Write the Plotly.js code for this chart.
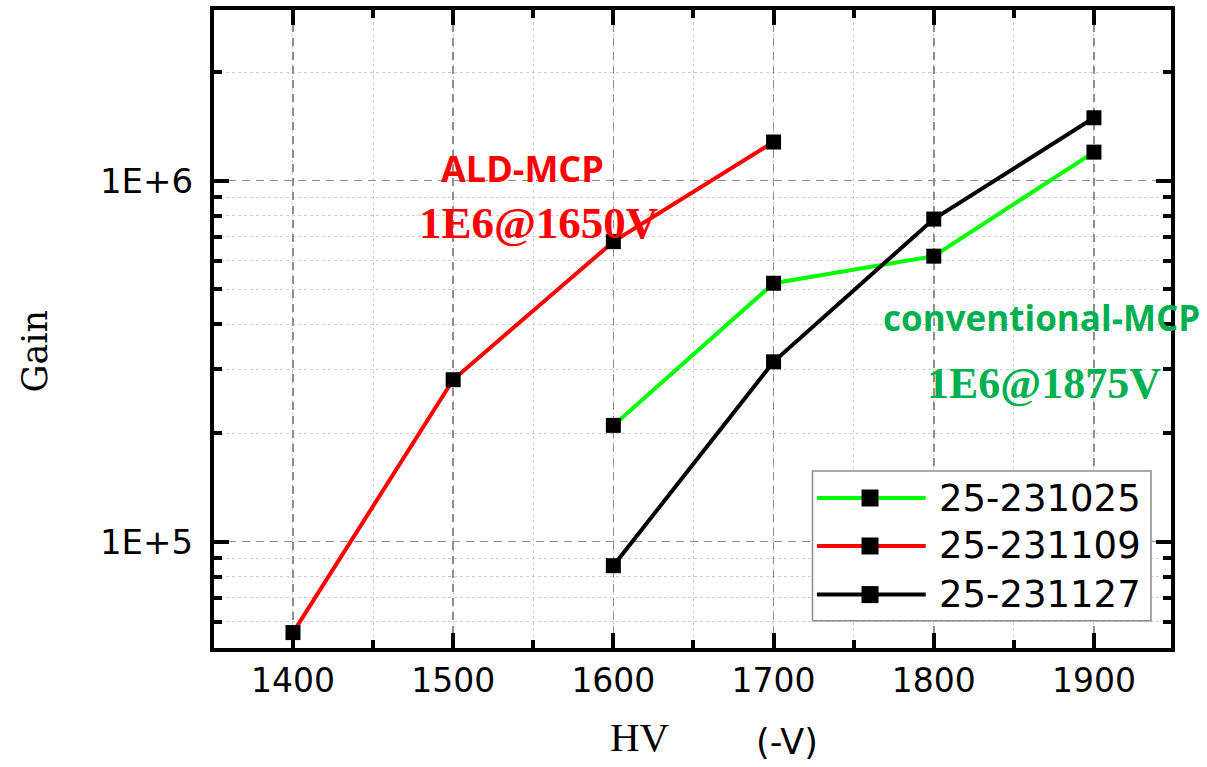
<!DOCTYPE html>
<html>
<head>
<meta charset="utf-8">
<script src="https://cdn.plot.ly/plotly-3.0.1.min.js"></script>
<style>
  html, body { margin: 0; padding: 0; background: #ffffff; }
  #chart { width: 1207px; height: 767px; }
</style>
</head>
<body>
<div id="chart"></div>
<script>
// High voltage applied to the MCP (-V)
const hvGreen = [1600, 1700, 1800, 1900];
const hvRed   = [1400, 1500, 1600, 1700];
const hvBlack = [1600, 1700, 1800, 1900];

// Measured gain for each plate
const gainGreen = [210000, 520000, 618000, 1200000];
const gainRed   = [56000, 281000, 678000, 1280000];
const gainBlack = [85800, 315000, 783000, 1494000];

// Series names
const seriesNames = ['25-231025', '25-231109', '25-231127'];

// Tick labels
const xTickVals = [1400, 1500, 1600, 1700, 1800, 1900];
const yTickVals = [1e5, 1e6];
const yTickText = ['1E+5', '1E+6'];

// Styling
const lineColors = ['#00ff00', '#ff0000', '#000000'];
const sansFont = 'DejaVu Sans, sans-serif';

const xs = [hvGreen, hvRed, hvBlack];
const ys = [gainGreen, gainRed, gainBlack];

const traces = seriesNames.map((name, i) => ({
  type: 'scatter',
  mode: 'lines+markers',
  name: name,
  x: xs[i],
  y: ys[i],
  line: { color: lineColors[i], width: 4 },
  marker: { symbol: 'square', size: 15, color: '#000000' },
  showlegend: false,
  cliponaxis: false
}));

// Minor tick positions for the log axis (2..9 within each decade)
const yMinor = [];
for (let d = 4; d <= 6; d++) {
  for (let k = 2; k <= 9; k++) yMinor.push(k * Math.pow(10, d));
}

// Hand-drawn legend box in the lower right of the plot
const legX0 = 0.6254, legX1 = 0.9791, legY0 = 0.0429, legY1 = 0.2774;
const rowY = [0.2351, 0.1599, 0.0837];
const symX0 = 0.6301, symX1 = 0.7437, symMid = 0.6855, textX = 0.7555;

const shapes = [{
  type: 'rect', xref: 'paper', yref: 'paper',
  x0: legX0, x1: legX1, y0: legY0, y1: legY1,
  line: { color: '#8c8c8c', width: 1.5 }, fillcolor: '#ffffff', layer: 'above'
}];
const annotations = [];
seriesNames.forEach((name, i) => {
  shapes.push({
    type: 'line', xref: 'paper', yref: 'paper',
    x0: symX0, x1: symX1, y0: rowY[i], y1: rowY[i],
    line: { color: lineColors[i], width: 4 }, layer: 'above'
  });
  shapes.push({
    type: 'rect', xref: 'paper', yref: 'paper',
    xsizemode: 'pixel', ysizemode: 'pixel',
    xanchor: symMid, yanchor: rowY[i],
    x0: -8.5, x1: 8.5, y0: -8.5, y1: 8.5,
    line: { width: 0 }, fillcolor: '#000000', layer: 'above'
  });
  annotations.push({
    xref: 'paper', yref: 'paper', x: textX, y: rowY[i],
    xanchor: 'left', yanchor: 'middle', showarrow: false,
    text: name, font: { family: sansFont, size: 37, color: '#000000' }
  });
});

// Text labels inside the plot
annotations.push(
  { x: 1543, y: 6.035, xref: 'x', yref: 'y', showarrow: false,
    text: '<b>ALD-MCP</b>',
    font: { family: 'Open Sans, sans-serif', size: 36, color: '#ff0000' } },
  { x: 1553, y: 5.883, xref: 'x', yref: 'y', showarrow: false,
    text: '<b>1E6@1650V</b>',
    font: { family: 'Liberation Serif, serif', size: 45, color: '#ff0000' } },
  { x: 1867.5, y: 5.620, xref: 'x', yref: 'y', showarrow: false,
    text: '<b>conventional-MCP</b>',
    font: { family: 'Open Sans, sans-serif', size: 35, color: '#00b050' } },
  { x: 1869, y: 5.437, xref: 'x', yref: 'y', showarrow: false,
    text: '<b>1E6@1875V</b>',
    font: { family: 'Liberation Serif, serif', size: 44, color: '#00b050' } },
  // Axis titles
  { xref: 'paper', yref: 'paper', x: -0.1872, y: 0.466, textangle: -90,
    xanchor: 'center', yanchor: 'middle',
    showarrow: false, text: 'Gain',
    font: { family: 'DejaVu Serif, serif', size: 35, color: '#000000' } },
  { xref: 'paper', yref: 'paper', x: 0.4451, y: -0.139,
    xanchor: 'center', yanchor: 'middle', showarrow: false,
    text: 'HV', font: { family: 'Liberation Serif, serif', size: 41, color: '#000000' } },
  { xref: 'paper', yref: 'paper', x: 0.5985, y: -0.147,
    xanchor: 'center', yanchor: 'middle', showarrow: false,
    text: '(-V)', font: { family: sansFont, size: 35, color: '#000000' } }
);

const layout = {
  width: 1207,
  height: 767,
  margin: { l: 214, r: 36, t: 10, b: 119 },
  paper_bgcolor: '#ffffff',
  plot_bgcolor: '#ffffff',
  showlegend: false,
  xaxis: {
    range: [1350.7, 1948.1],
    tickmode: 'array',
    tickvals: xTickVals,
    ticks: 'inside', ticklen: 15, tickwidth: 4, tickcolor: '#000000',
    showline: true, linewidth: 4, linecolor: '#000000', mirror: 'allticks',
    showgrid: true, gridcolor: '#8f8f8f', gridwidth: 1.5, griddash: '8px,6px',
    zeroline: false,
    ticklabelstandoff: 0,
    tickfont: { family: sansFont, size: 33, color: '#000000' },
    minor: {
      dtick: 50, tick0: 1350,
      ticks: 'inside', ticklen: 8, tickwidth: 4, tickcolor: '#000000',
      showgrid: true, gridcolor: '#cfcfcf', gridwidth: 1, griddash: '3px,3px'
    }
  },
  yaxis: {
    type: 'log',
    range: [4.7055, 6.4729],
    tickmode: 'array',
    tickvals: yTickVals,
    ticktext: yTickText,
    ticks: 'inside', ticklen: 15, tickwidth: 4, tickcolor: '#000000',
    showline: true, linewidth: 4, linecolor: '#000000', mirror: 'allticks',
    showgrid: true, gridcolor: '#8f8f8f', gridwidth: 1.5, griddash: '8px,6px',
    zeroline: false,
    ticklabelstandoff: 10,
    tickfont: { family: sansFont, size: 34, color: '#000000' },
    minor: {
      tickmode: 'array', tickvals: yMinor,
      ticks: 'inside', ticklen: 8, tickwidth: 4, tickcolor: '#000000',
      showgrid: true, gridcolor: '#cfcfcf', gridwidth: 1, griddash: '3px,3px'
    }
  },
  shapes: shapes,
  annotations: annotations
};

Plotly.newPlot('chart', traces, layout, { displayModeBar: false, staticPlot: true });
</script>
</body>
</html>
